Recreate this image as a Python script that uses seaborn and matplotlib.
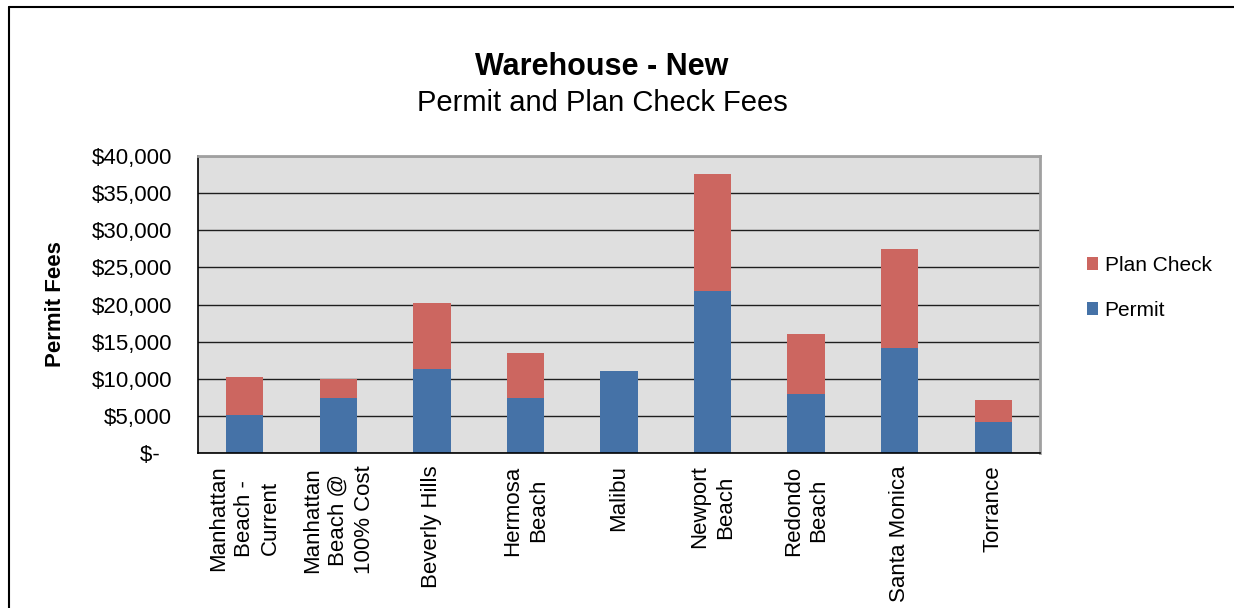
import matplotlib
matplotlib.use("Agg")
import matplotlib.pyplot as plt
from matplotlib.lines import Line2D
from matplotlib.patches import Patch
import seaborn as sns
import pandas as pd

categories = [
    "Manhattan\nBeach -\nCurrent",
    "Manhattan\nBeach @\n100% Cost",
    "Beverly Hills",
    "Hermosa\nBeach",
    "Malibu",
    "Newport\nBeach",
    "Redondo\nBeach",
    "Santa Monica",
    "Torrance",
]
permit = [5100, 7350, 11250, 7450, 11100, 21800, 7900, 14100, 4150]
plan_check = [5150, 2650, 8950, 5990, 0, 15770, 8100, 13360, 3050]
y_ticks = [0, 5000, 10000, 15000, 20000, 25000, 30000, 35000, 40000]
y_tick_labels = ["$-  ", "$5,000", "$10,000", "$15,000", "$20,000",
                 "$25,000", "$30,000", "$35,000", "$40,000"]

permit_color = "#4572A7"
plan_color = "#CC6660"

df = pd.DataFrame({
    "City": categories,
    "Permit": permit,
    "Plan Check": plan_check,
})
df["Total"] = df["Permit"] + df["Plan Check"]

sns.set_style("white")
plt.rcParams["font.family"] = ["Liberation Sans", "DejaVu Sans"]
plt.rcParams["text.color"] = "black"
plt.rcParams["axes.labelcolor"] = "black"
plt.rcParams["xtick.color"] = "black"
plt.rcParams["ytick.color"] = "black"

fig = plt.figure(figsize=(12.34, 6.08), dpi=100)
ax = fig.add_axes([198 / 1234, 1 - 453 / 608, (1040 - 198) / 1234, (453 - 156) / 608])
ax.set_facecolor("#DFDFDF")

sns.barplot(data=df, x="City", y="Total", color=plan_color, width=0.4,
            saturation=1, ax=ax, edgecolor="none")
sns.barplot(data=df, x="City", y="Permit", color=permit_color, width=0.4,
            saturation=1, ax=ax, edgecolor="none")

ax.set_ylim(0, 40000)
ax.set_xlim(-0.5, len(categories) - 0.5)
ax.set_yticks(y_ticks)
ax.set_yticklabels(y_tick_labels, fontsize=16, color="black")
ax.set_xticks(range(len(categories)))
ax.set_xticklabels(categories, rotation=90, fontsize=16, ha="center",
                   va="top", multialignment="center", linespacing=1.3,
                   color="black")
ax.set_xticks([i - 0.5 for i in range(len(categories) + 1)], minor=True)
ax.tick_params(axis="x", which="major", length=0, pad=9)
ax.tick_params(axis="x", which="minor", length=6, width=1, direction="out", color="black")
ax.tick_params(axis="y", which="major", length=6, width=1, direction="out",
               color="black", pad=12.5)

ax.set_axisbelow(True)
ax.yaxis.grid(True, color="#1e1e1e", linewidth=1.0)
ax.xaxis.grid(False)

ax.set_xlabel("")
ax.set_ylabel("Permit Fees", fontsize=16, fontweight="bold", color="black")
ax.yaxis.set_label_coords(-(198 - 66) / 842, 0.5)

for s in ["left", "bottom"]:
    ax.spines[s].set_color("black")
    ax.spines[s].set_linewidth(1.2)
for s in ["top", "right"]:
    ax.spines[s].set_color("#A0A0A0")
    ax.spines[s].set_linewidth(2)

fig.text(602 / 1234, 1 - 67 / 608, "Warehouse - New", fontsize=22,
         fontweight="bold", ha="center", va="center", color="black")
fig.text(602 / 1234, 1 - 103 / 608, "Permit and Plan Check Fees", fontsize=21,
         ha="center", va="center", color="black")

handles = [Patch(facecolor=plan_color, edgecolor="none"),
           Patch(facecolor=permit_color, edgecolor="none")]
leg = fig.legend(handles, ["Plan Check", "Permit"], loc="center left",
                 bbox_to_anchor=(1087 / 1234, 1 - 288 / 608), frameon=False,
                 fontsize=15, handlelength=0.55, handleheight=0.55,
                 handletextpad=0.3, labelspacing=1.25, borderpad=0, borderaxespad=0)
for t in leg.get_texts():
    t.set_color("black")

y_top = 1 - 7 / 608
x_left = 9 / 1234
fig.add_artist(Line2D([x_left, 1], [y_top, y_top], color="black", lw=1.5,
                      transform=fig.transFigure))
fig.add_artist(Line2D([x_left, x_left], [0, y_top], color="black", lw=1.5,
                      transform=fig.transFigure))

fig.savefig("out.png", dpi=100, facecolor="white")
